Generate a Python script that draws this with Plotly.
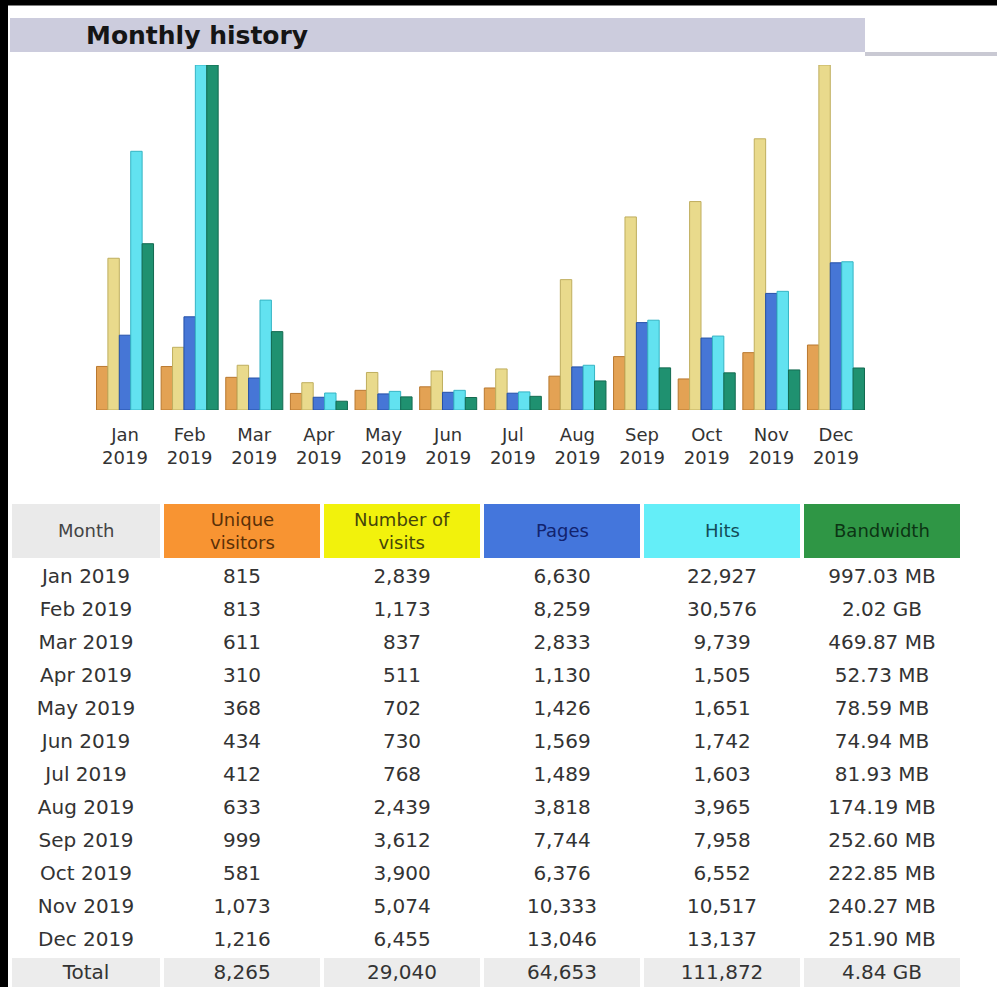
import plotly.graph_objects as go

months = ["Jan", "Feb", "Mar", "Apr", "May", "Jun", "Jul", "Aug", "Sep", "Oct", "Nov", "Dec"]
year = "2019"
unique_visitors = [815, 813, 611, 310, 368, 434, 412, 633, 999, 581, 1073, 1216]
visits = [2839, 1173, 837, 511, 702, 730, 768, 2439, 3612, 3900, 5074, 6455]
pages = [6630, 8259, 2833, 1130, 1426, 1569, 1489, 3818, 7744, 6376, 10333, 13046]
hits = [22927, 30576, 9739, 1505, 1651, 1742, 1603, 3965, 7958, 6552, 10517, 13137]
bandwidth_mb = [997.03, 2068.48, 469.87, 52.73, 78.59, 74.94, 81.93, 174.19, 252.60, 222.85, 240.27, 251.90]
bandwidth_txt = ["997.03 MB", "2.02 GB", "469.87 MB", "52.73 MB", "78.59 MB", "74.94 MB", "81.93 MB",
                 "174.19 MB", "252.60 MB", "222.85 MB", "240.27 MB", "251.90 MB"]
totals = ["Total", "8,265", "29,040", "64,653", "111,872", "4.84 GB"]
headers = ["Month", "Unique<br>visitors", "Number of<br>visits", "Pages", "Hits", "Bandwidth"]

W, H = 997, 987
FONT = "DejaVu Sans, Verdana, sans-serif"

fig = go.Figure()

x = list(range(len(months)))
bw = 0.1765
series = [
    (unique_visitors, "y", "#E3A254", "#B9782F"),
    (visits, "y", "#E9DA8C", "#BFAE5E"),
    (pages, "y2", "#4676D6", "#2450A8"),
    (hits, "y2", "#62E2F0", "#35B4C4"),
    (bandwidth_mb, "y3", "#1F9170", "#136A50"),
]
for k, (vals, ax, col, edge) in enumerate(series):
    fig.add_trace(go.Bar(
        x=x, y=vals, yaxis=ax, width=bw, offset=-2.5 * bw + k * bw,
        marker=dict(color=col, line=dict(color=edge, width=1)),
        showlegend=False, hoverinfo="skip",
    ))

ydom = [(H - 410) / H, (H - 65) / H]
fig.update_layout(
    width=W, height=H,
    margin=dict(l=0, r=0, t=0, b=0),
    paper_bgcolor="white", plot_bgcolor="white",
    barmode="overlay",
    font=dict(family=FONT, color="#333333"),
    xaxis=dict(domain=[92.7 / W, 868.3 / W], range=[-0.5, 11.5],
               tickvals=x, ticktext=[f"{m}<br>{year}" for m in months],
               showgrid=False, zeroline=False, showline=False, ticks="",
               ticklabelstandoff=12,
               tickfont=dict(size=18, color="#333333")),
    yaxis=dict(domain=ydom, range=[0, max(visits)], visible=False, fixedrange=True),
    yaxis2=dict(domain=ydom, range=[0, max(hits)], visible=False, overlaying="y"),
    yaxis3=dict(domain=ydom, range=[0, max(bandwidth_mb)], visible=False, overlaying="y"),
)

# table
month_col = [f"{m} {year}" for m in months] + [totals[0]]
fmt = lambda v: f"{v:,}"
cols = [
    month_col,
    [fmt(v) for v in unique_visitors] + [totals[1]],
    [fmt(v) for v in visits] + [totals[2]],
    [fmt(v) for v in pages] + [totals[3]],
    [fmt(v) for v in hits] + [totals[4]],
    bandwidth_txt + [totals[5]],
]
nrows = len(month_col)
cell_fill = [["white"] * (nrows - 1) + ["#ECECEC"] for _ in cols]
tx0, tx1 = 10, 962
colw = [152, 160, 160, 160, 160, 160]
fig.add_trace(go.Table(
    domain=dict(x=[tx0 / W, tx1 / W], y=[0, (H - 502) / H]),
    columnwidth=colw,
    header=dict(
        values=[""] * len(headers),
        fill_color=["#EAEAEA", "#F89432", "#F2F20C", "#4476DC", "#64EEF8", "#2F9645"],
        align="center", height=58,
        line=dict(color="white", width=4),
    ),
    cells=dict(
        values=cols,
        fill_color=cell_fill,
        font=dict(family=FONT, size=20, color="#333333"),
        align="center", height=33,
        line=dict(color="white", width=4),
    ),
))

# header labels, vertically centred in the header cells
hdr_colors = ["#444444", "#5a3008", "#45450a", "#12236e", "#124c58", "#0c3414"]
scale = (tx1 - tx0) / sum(colw)
left = tx0
for txt, c, w in zip(headers, hdr_colors, colw):
    cx = left + w * scale / 2
    left += w * scale
    fig.add_annotation(text=txt, xref="paper", yref="paper", x=cx / W, y=(H - 531) / H,
                       xanchor="center", yanchor="middle", showarrow=False, align="center",
                       font=dict(family=FONT, size=18, color=c))

# title bar and frame
fig.add_shape(type="rect", xref="paper", yref="paper", x0=10 / W, x1=865 / W,
              y0=(H - 52) / H, y1=(H - 18) / H, fillcolor="#CCCCDD", line_width=0, layer="below")
fig.add_shape(type="rect", xref="paper", yref="paper", x0=865 / W, x1=1,
              y0=(H - 56) / H, y1=(H - 52) / H, fillcolor="#C9C9D3", line_width=0, layer="below")
fig.add_shape(type="rect", xref="paper", yref="paper", x0=0, x1=1,
              y0=(H - 5) / H, y1=1.02, fillcolor="black", line=dict(color="black", width=1))
fig.add_shape(type="rect", xref="paper", yref="paper", x0=0, x1=8 / W,
              y0=0, y1=1, fillcolor="black", line_width=0)
fig.add_annotation(text="<b>Monthly history</b>", xref="paper", yref="paper",
                   x=84 / W, y=(H - 35) / H, xanchor="left", yanchor="middle",
                   showarrow=False, font=dict(family=FONT, size=25, color="#151515"))

fig.write_html("out.html", config={"displayModeBar": False},
               post_script="document.body.style.margin='0';document.body.style.overflow='hidden';"
                           "document.documentElement.style.overflow='hidden';window.scrollTo(0,0);")
